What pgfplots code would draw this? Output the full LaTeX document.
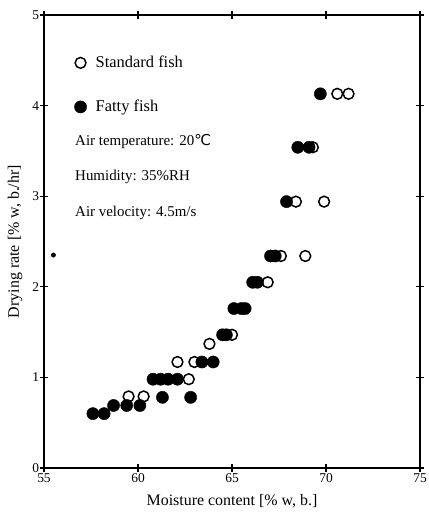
\documentclass[border=0pt]{standalone}
\usepackage{pgfplots}
\pgfplotsset{compat=1.18}
\usepackage{fontspec}
\setmainfont{Liberation Serif}
\newfontfamily\dejavu{DejaVu Sans}
\begin{document}
\begin{tikzpicture}
\begin{axis}[
  at={(0,0)}, anchor=south west,
  scale only axis,
  width=376bp, height=453bp,
  xmin=55, xmax=75, ymin=0, ymax=5,
  xtick={55,60,65,70,75}, ytick={0,1,2,3,4,5},
  tick align=center, major tick length=8bp,
  tick style={line width=1.1pt, black},
  axis line style={line width=1.5pt},
  tick label style={font=\fontsize{13.5}{15}\selectfont},
  /pgf/number format/assume math mode=true,
  xticklabel style={yshift=1.5bp},
  yticklabel style={xshift=2.5bp},
  xlabel={Moisture content [\% w, b.]},
  ylabel={Drying rate [\% w, b./hr]},
  label style={font=\fontsize{16}{18}\selectfont},
  xlabel style={yshift=-5bp},
  ylabel style={yshift=3bp},
  clip=false,
  legend style={at={(axis cs:56.45,4.59)}, anchor=north west, draw=none, fill=none,
    row sep=27bp, font=\fontsize{16.5}{18}\selectfont, cells={anchor=west}},
  legend image code/.code={\draw[#1] plot coordinates {(0bp,0bp)}; \path (13bp,0bp);},
]
\addplot[only marks, mark=*, mark size=5.4bp, mark options={fill=white, draw=black, line width=1.5pt}]
  coordinates {
  (59.5,0.79) (60.3,0.79) (62.1,1.17) (62.7,0.98) (63.0,1.17) (63.8,1.37)
  (65.0,1.47) (66.9,2.05) (67.6,2.34) (68.9,2.34) (68.4,2.94) (69.9,2.94)
  (69.3,3.54) (70.6,4.13) (71.2,4.13)
  };
\addlegendentry{Standard fish}
\addplot[only marks, mark=*, mark size=6.1bp, mark options={fill=black, draw=black}]
  coordinates {
  (57.6,0.60) (58.2,0.60) (58.7,0.69) (59.4,0.69) (60.1,0.69) (61.3,0.78)
  (62.8,0.78) (60.8,0.98) (61.2,0.98) (61.6,0.98) (62.1,0.98) (63.4,1.17)
  (64.0,1.17) (64.5,1.47) (64.7,1.47) (65.1,1.76) (65.5,1.76) (65.7,1.76)
  (66.1,2.05) (66.35,2.05) (67.05,2.34) (67.3,2.34) (67.9,2.94) (68.5,3.54)
  (69.1,3.54) (69.7,4.13)
  };
\addlegendentry{Fatty fish}
\addplot[only marks, mark=*, mark size=2.2bp, forget plot] coordinates {(55.5,2.35)};
\node[anchor=west, font=\fontsize{15}{17}\selectfont, inner sep=0pt] at (axis cs:56.65,3.60) {Air temperature: 20{\dejavu ℃}};
\node[anchor=west, font=\fontsize{15}{17}\selectfont, inner sep=0pt] at (axis cs:56.65,3.21) {Humidity: 35\%RH};
\node[anchor=west, font=\fontsize{15}{17}\selectfont, inner sep=0pt] at (axis cs:56.65,2.81) {Air velocity: 4.5m/s};
\end{axis}
\pgfresetboundingbox
\path[use as bounding box] (-44bp,-46bp) rectangle (385bp,468bp);
\end{tikzpicture}
\end{document}
